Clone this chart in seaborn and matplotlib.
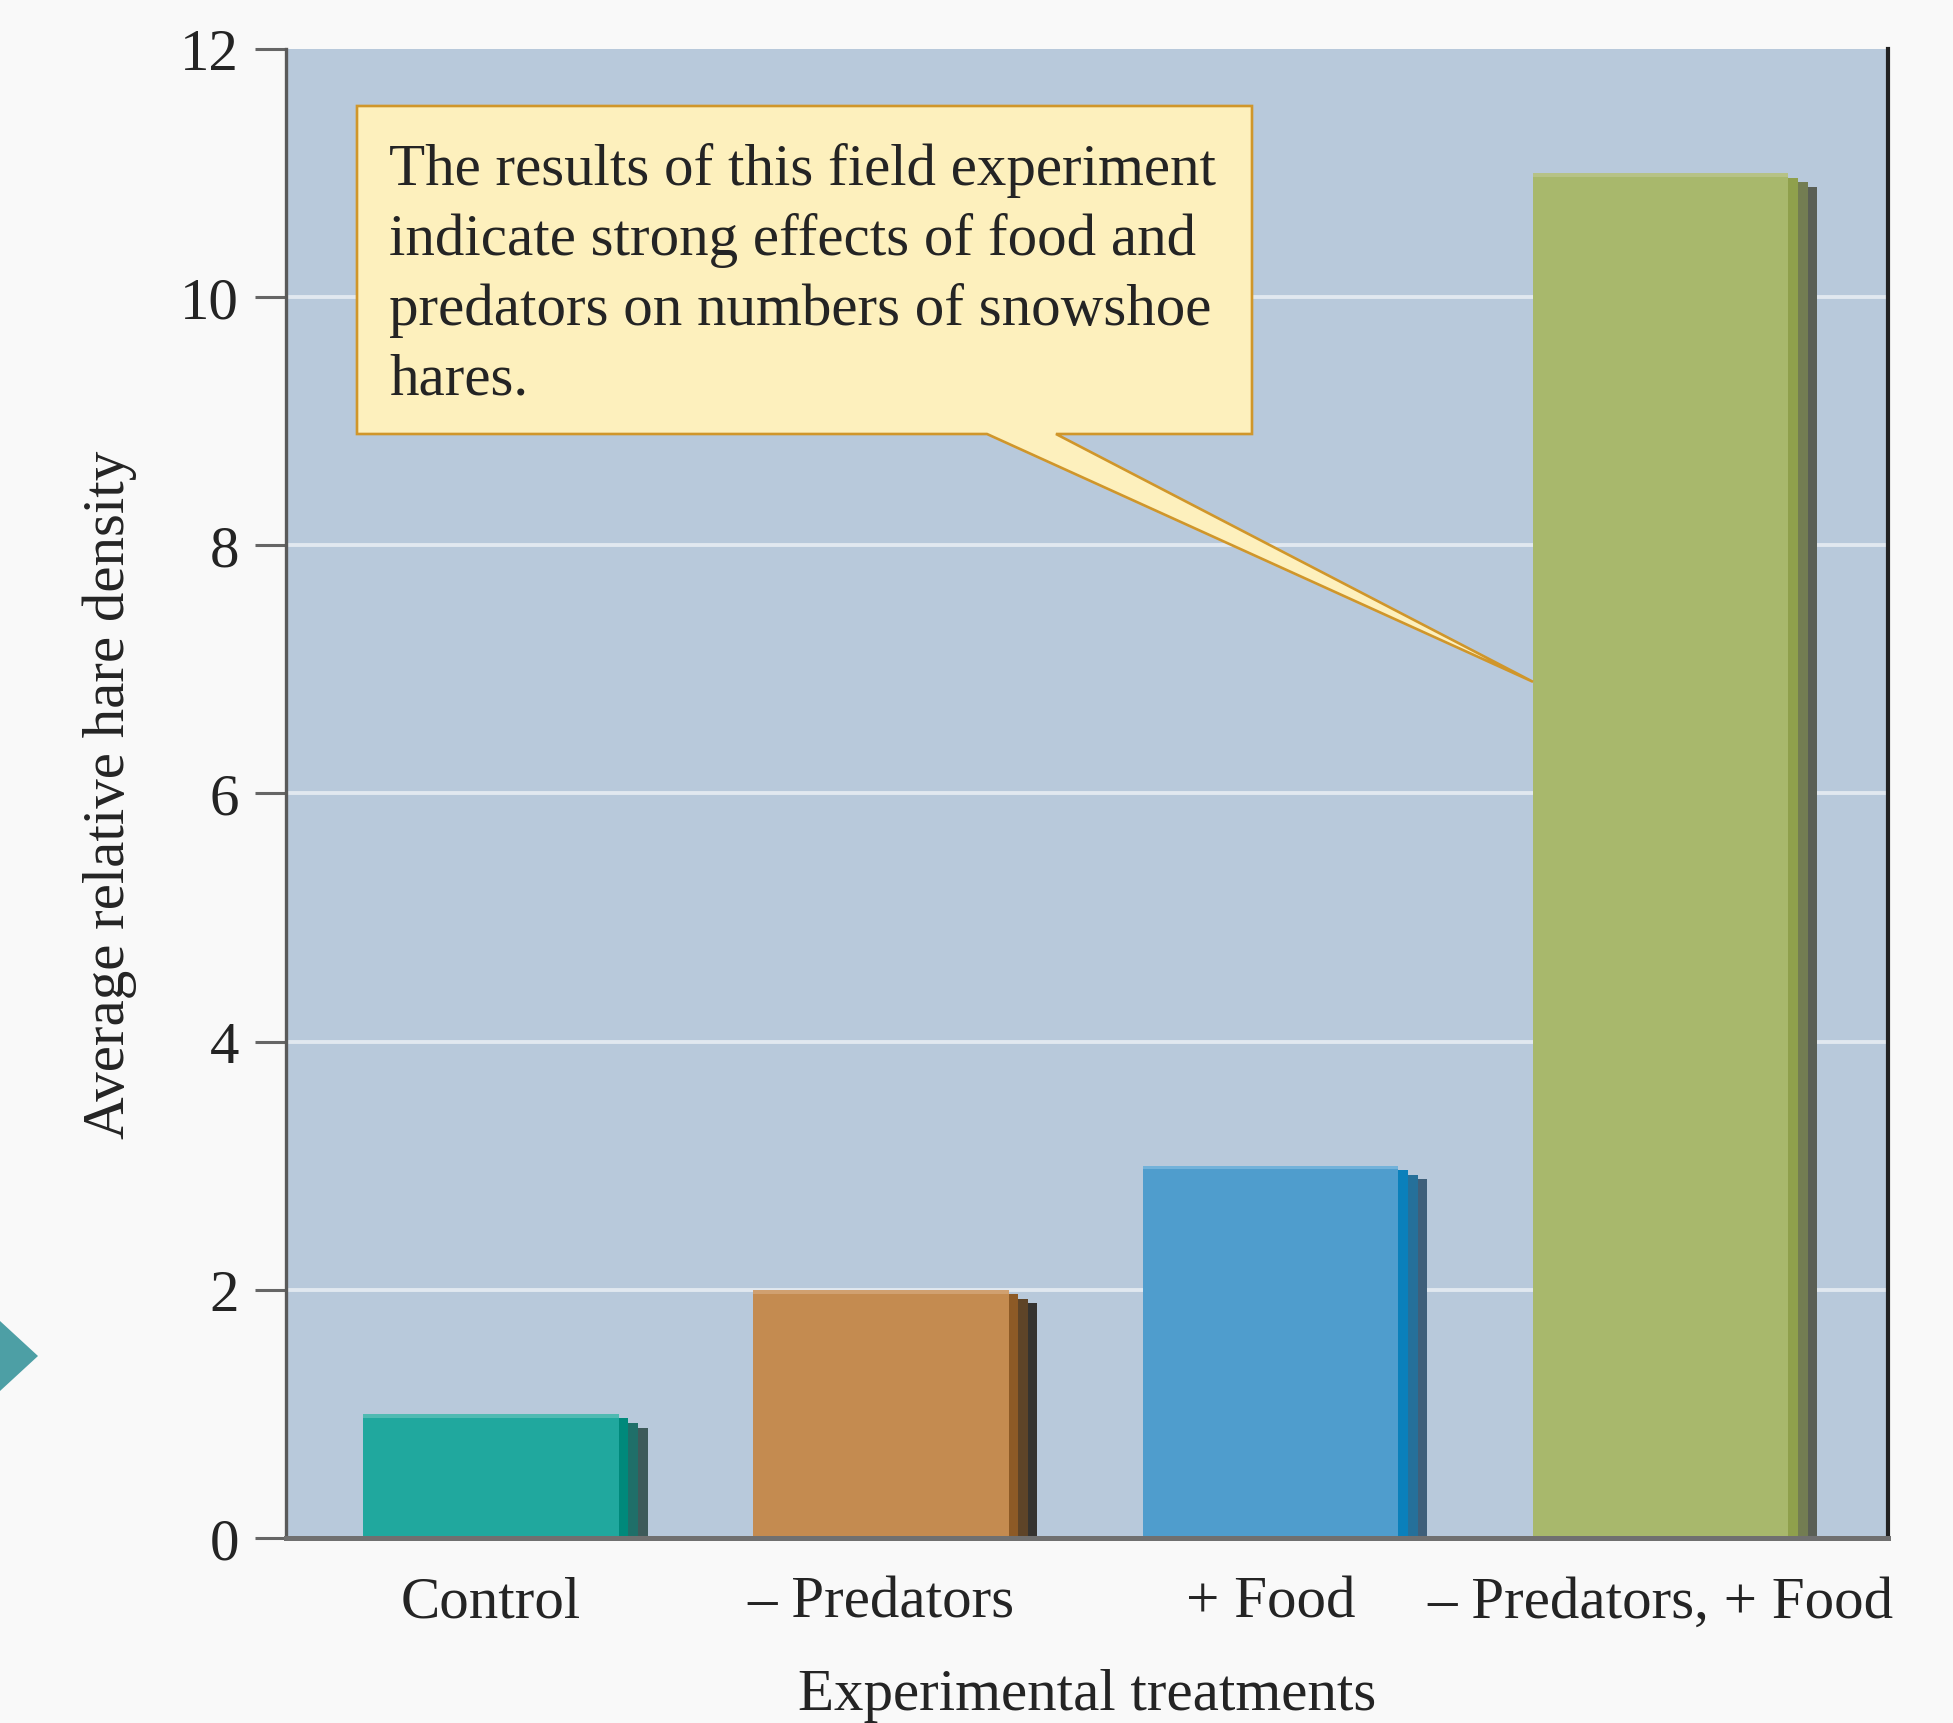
import matplotlib
matplotlib.use("Agg")
import matplotlib.pyplot as plt
from matplotlib.patches import Polygon
import seaborn as sns

# ── Data ──────────────────────────────────────────────────────
treatments = ["Control", "\u2013 Predators", "+ Food", "\u2013 Predators, + Food"]
hare_density = [1.0, 2.0, 3.0, 11.0]
y_ticks = [0, 2, 4, 6, 8, 10, 12]
grid_values = [2, 4, 6, 8, 10]
note_lines = ["The results of this field experiment",
              "indicate strong effects of food and",
              "predators on numbers of snowshoe",
              "hares."]
note_target = 6.9   # y value the callout points at (on the last bar)

# ── Style ─────────────────────────────────────────────────────
front_colors = ["#20a89e", "#c48b50", "#4f9dcd", "#a8b86c"]
top_colors = ["#4fbab2", "#d0a070", "#72b2da", "#b6c286"]
side_colors = [["#00897b", "#1f6f69", "#3d5a5a"],
               ["#8d5a26", "#5e4428", "#353330"],
               ["#0a80bb", "#25709a", "#3e5f7a"],
               ["#8fa04c", "#737d52", "#5a5f55"]]
BG_FIG = "#f9f9f9"
BG_AX = "#b8c9db"
TXT = "#242424"
FS = 42.5
BAR_W = 0.655
SIDE_W = 0.074
SIDE_DROP = 0.11

plt.rcParams["font.family"] = ["Liberation Serif", "DejaVu Serif"]

fig = plt.figure(figsize=(19.53, 17.24), dpi=100, facecolor=BG_FIG)
ax = fig.add_axes([0.14644, 0.10731, 0.82027, 0.86369])
ax.set_facecolor(BG_AX)

# gridlines behind bars
ax.hlines(grid_values, -1, 5, color="#e1e8f0", lw=2.8, zorder=0.5)

sns.barplot(x=treatments, y=hare_density, hue=treatments, palette=front_colors,
            width=BAR_W, saturation=1, legend=False, linewidth=0, ax=ax, zorder=2)

# 3-D style side faces and top highlights
for i, v in enumerate(hare_density):
    x0 = i + BAR_W / 2
    sw = SIDE_W / 3
    for k, c in enumerate(side_colors[i]):
        ax.bar(x0 + k * sw, v - SIDE_DROP * (k + 1) / 3, width=sw, align="edge",
               color=c, linewidth=0, zorder=2)
    ax.bar(i, 0.03, bottom=v - 0.03, width=BAR_W, color=top_colors[i],
           linewidth=0, zorder=2.1)

ax.set_xlim(-0.526, 3.583)
ax.set_ylim(0, 12)
ax.set_yticks(y_ticks)
ax.set_yticklabels([str(t) for t in y_ticks])

ax.tick_params(axis="y", length=22, width=2.2, color="#666666", pad=12,
               labelsize=FS, labelcolor=TXT)
ax.tick_params(axis="x", length=0, pad=27, labelsize=FS, labelcolor=TXT)

ax.set_xlabel("Experimental treatments", fontsize=FS, color=TXT, labelpad=28)
ax.set_ylabel("Average relative hare density", fontsize=FS, color=TXT, labelpad=31)

ax.spines["top"].set_visible(False)
ax.spines["left"].set_color("#5a5a5a")
ax.spines["left"].set_linewidth(2.4)
ax.spines["bottom"].set_color("#707070")
ax.spines["bottom"].set_linewidth(3.6)
ax.spines["right"].set_color("#222222")
ax.spines["right"].set_linewidth(3.0)
for s in ax.spines.values():
    s.set_zorder(3)

# ── Callout box with wedge pointer ────────────────────────────
def px2ax(px, py):
    return ((px - 286) / 1602, (1539 - py) / 1489)

tip = (ax.transData + ax.transAxes.inverted()).transform((3 - BAR_W / 2, note_target))
callout = [px2ax(357, 107), px2ax(1252, 107), px2ax(1252, 435), px2ax(1056, 435),
           tuple(tip), px2ax(987, 435), px2ax(357, 435)]
ax.add_patch(Polygon(callout, closed=True, transform=ax.transAxes,
                     facecolor="#fdf0bd", edgecolor="#d0962a", lw=1.9,
                     zorder=5, clip_on=False))
for j, line in enumerate(note_lines):
    ax.text(0.0643, (1539 - 185 - 70 * j) / 1489, line, transform=ax.transAxes,
            fontsize=FS, color=TXT, ha="left", va="baseline", zorder=6)

# teal navigation marker at the left edge
fig.patches.append(Polygon([(0, 1 - 1322 / 1724), (38 / 1953, 1 - 1357 / 1724),
                            (0, 1 - 1392 / 1724)], closed=True,
                           transform=fig.transFigure, facecolor="#4d9fa5",
                           edgecolor="none"))

fig.savefig("out.png", dpi=100, facecolor=BG_FIG)
